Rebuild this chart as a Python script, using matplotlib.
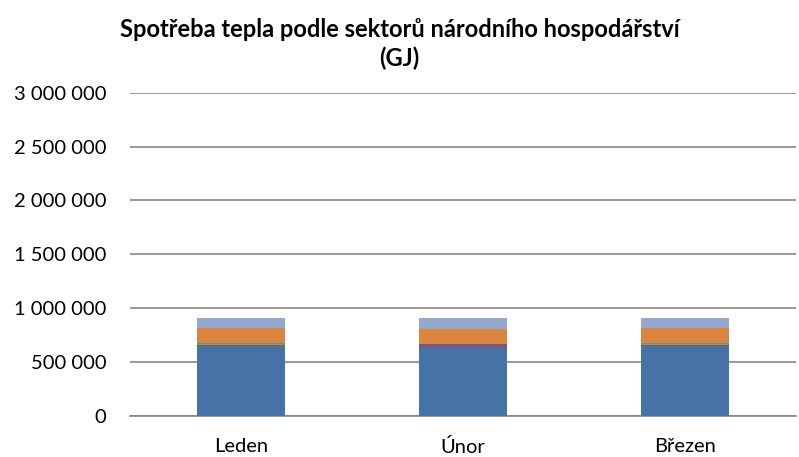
import numpy as np
import matplotlib.pyplot as plt
from matplotlib.ticker import FuncFormatter

plt.rcParams['font.family'] = ['Lato', 'DejaVu Sans']

mesice = ['Leden', 'Únor', 'Březen']

# spotřeba po sektorech (GJ)
sektor_1 = [648000, 636000, 648000]
sektor_2 = [13000, 10000, 13000]
sektor_3 = [1000, 1000, 1000]
sektor_4 = [8000, 15000, 8000]
sektor_5 = [2000, 2000, 2000]
sektor_6 = [139000, 145000, 139000]
sektor_7 = [96000, 99000, 96000]
sektor_8 = [1000, 1000, 3000]

serie = [sektor_1, sektor_2, sektor_3, sektor_4, sektor_5, sektor_6, sektor_7, sektor_8]
barvy = ['#4572A7', '#AA4643', '#89A54E', '#71588F', '#4198AF',
         '#DB843D', '#93A9CF', '#D19392']

fig = plt.figure(figsize=(7.99, 4.57), dpi=100)
ax = fig.add_axes([130 / 799, 1 - 415.7 / 457, 666 / 799, 323 / 457])

x = np.arange(len(mesice))
dole = np.zeros(len(mesice))
for hodnoty, barva in zip(serie, barvy):
    ax.bar(x, hodnoty, width=0.4, bottom=dole, color=barva, zorder=3)
    dole += np.array(hodnoty)

ax.set_ylim(0, 3000000)
ax.set_xlim(-0.5, 2.5)
ax.set_yticks(np.arange(0, 3000001, 500000))
ax.yaxis.set_major_formatter(FuncFormatter(lambda v, p: f'{int(v):,}'.replace(',', ' ')))
ax.set_xticks(x)
ax.set_xticklabels(mesice)
ax.grid(axis='y', color='#868686', linewidth=1.2, zorder=0)
for s in ['top', 'right', 'left']:
    ax.spines[s].set_visible(False)
ax.spines['bottom'].set_color('#868686')
ax.spines['bottom'].set_linewidth(1.2)
ax.tick_params(axis='both', length=0, labelsize=14.5, colors='black')
ax.tick_params(axis='y', pad=17)
ax.tick_params(axis='x', pad=16)

fig.text(0.5, 1 - 44 / 457, 'Spotřeba tepla podle sektorů národního hospodářství\n(GJ)',
         ha='center', va='center', fontsize=17, fontweight='bold', linespacing=1.25)

fig.savefig('out.png', dpi=100)
